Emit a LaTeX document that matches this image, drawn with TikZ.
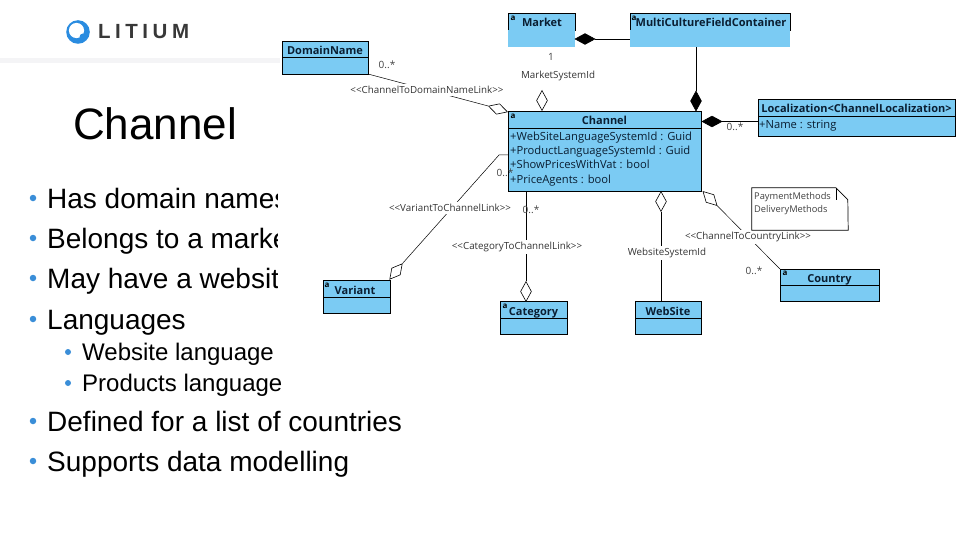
\documentclass[tikz,border=0pt]{standalone}
\usepackage{fontspec}
\setmainfont{Liberation Sans}
\newfontfamily\umlfont{Open Sans}
\newfontfamily\logofont[LetterSpace=22]{Liberation Sans}
\usetikzlibrary{shapes.geometric}
\definecolor{umlblue}{HTML}{7BCBF3}
\definecolor{litiumblue}{HTML}{2A8CE0}
\definecolor{bulletblue}{HTML}{3A8ED8}
\definecolor{rulegray}{HTML}{F4F4F6}
\definecolor{umlink}{HTML}{0A1E32}
\tikzset{
  headbox/.style={rectangle, draw=black, fill=umlblue, line width=0.9pt, inner sep=0pt, text height=11pt, text depth=0pt, font=\umlfont\bfseries\fontsize{11}{12}\selectfont, text=umlink},
  bodybox/.style={rectangle, draw=black, fill=umlblue, line width=0.9pt, inner sep=0pt},
  bodyfill/.style={rectangle, fill=umlblue, inner sep=0pt},
  attrtext/.style={anchor=base west, inner sep=0pt, font=\umlfont\fontsize{11.2}{12}\selectfont, text=umlink},
  linktext/.style={fill=white, inner xsep=1pt, inner ysep=2pt, font=\umlfont\fontsize{9.8}{10}\selectfont, text=black!80},
  multtext/.style={inner sep=0pt, font=\umlfont\fontsize{10}{10}\selectfont, text=black!75},
  abstext/.style={inner sep=0pt, font=\umlfont\bfseries\fontsize{8}{8}\selectfont},
  opendiamond/.style={diamond, draw=black, fill=white, line width=0.6pt, minimum width=20pt, minimum height=11pt, inner sep=0pt},
  fulldiamond/.style={diamond, draw=black, fill=black, line width=0.6pt, minimum width=20pt, minimum height=11pt, inner sep=0pt},
  slidetext/.style={anchor=base west, inner sep=0pt, font=\fontsize{28}{30}\selectfont},
  subtext/.style={anchor=base west, inner sep=0pt, font=\fontsize{24}{26}\selectfont},
  bulletdot/.style={circle, fill=bulletblue, inner sep=0pt, minimum size=6.5pt},
  subdot/.style={circle, fill=bulletblue, inner sep=0pt, minimum size=6pt},
  umlline/.style={line width=0.8pt},
  thinline/.style={line width=0.5pt}
}
\begin{document}
\begin{tikzpicture}[x=1pt,y=-1pt]
\useasboundingbox (0,0) rectangle (960,540);
\fill[rulegray] (0,58.5) rectangle (280,63.5);
\fill[litiumblue] (78,32) circle (11.8);
\fill[white] (76.5,30.5) circle (7.6);
\node[fill=litiumblue, circle, inner sep=0pt, minimum size=7pt] (logodot) at (83,37){};
\node[anchor=west, inner sep=0pt, text=black!78, font=\logofont\bfseries\fontsize{20.5}{22}\selectfont] (logotext) at (98,31.5){LITIUM};
\node[anchor=base west, inner sep=0pt, font=\fontsize{44}{48}\selectfont] (title) at (73,139.5){Channel};

\node[bulletdot] (dot1) at (33,198){};
\node[slidetext] (item1) at (47,208){Has domain names};
\node[bulletdot] (dot2) at (33,238){};
\node[slidetext] (item2) at (47,248){Belongs to a market};
\node[bulletdot] (dot3) at (33,278){};
\node[slidetext] (item3) at (47,288){May have a website};
\node[bulletdot] (dot4) at (33,319){};
\node[slidetext] (item4) at (47,329){Languages};
\node[subdot] (dot5) at (68,352){};
\node[subtext] (item5) at (82,360){Website language};
\node[subdot] (dot6) at (68,383){};
\node[subtext] (item6) at (82,391){Products language};
\node[bulletdot] (dot7) at (33,421){};
\node[slidetext] (item7) at (47,431){Defined for a list of countries};
\node[bulletdot] (dot8) at (33,461){};
\node[slidetext] (item8) at (47,471){Supports data modelling};
\fill[white] (278,180) rectangle (400,300);

\node[headbox, minimum width=86pt, minimum height=16pt] (domainhead) at (325,49){DomainName};
\node[bodybox, minimum width=86pt, minimum height=17pt] (domainbody) at (325,65.5){};
\node[headbox, minimum width=67pt, minimum height=17pt] (markethead) at (541.5,21.5){\hspace{1pt}Market};
\node[bodyfill, minimum width=67pt, minimum height=17pt] (marketbody) at (541.5,38.5){};
\node[headbox, minimum width=160pt, minimum height=17pt] (multihead) at (710,21.5){\hspace{2pt}MultiCultureFieldContainer};
\node[bodyfill, minimum width=160pt, minimum height=17pt] (multibody) at (710,38.5){};
\node[headbox, minimum width=193pt, minimum height=17pt] (channelhead) at (604.5,119.5){Channel};
\node[bodybox, minimum width=193pt, minimum height=63pt] (channelbody) at (604.5,159.5){};
\node[attrtext] (attr1) at (510,141){+WebSiteLanguageSystemId : Guid};
\node[attrtext] (attr2) at (510,155){+ProductLanguageSystemId : Guid};
\node[attrtext] (attr3) at (510,169){+ShowPricesWithVat : bool};
\node[attrtext] (attr4) at (510,183){+PriceAgents : bool};
\node[headbox, minimum width=197pt, minimum height=17pt] (localhead) at (856.5,107.5){Localization<ChannelLocalization>};
\node[bodybox, minimum width=197pt, minimum height=20pt] (localbody) at (856.5,126){};
\node[attrtext] (attr5) at (759,129){+Name : string};
\node[headbox, minimum width=67pt, minimum height=17pt] (varianthead) at (356.5,288.5){\hspace{-3pt}Variant};
\node[bodybox, minimum width=67pt, minimum height=16pt] (variantbody) at (356.5,305){};
\node[headbox, minimum width=67pt, minimum height=17pt] (categoryhead) at (533.5,309.5){Category};
\node[bodybox, minimum width=67pt, minimum height=16pt] (categorybody) at (533.5,326){};
\node[headbox, minimum width=66pt, minimum height=17pt] (websitehead) at (668,309.5){WebSite};
\node[bodybox, minimum width=66pt, minimum height=16pt] (websitebody) at (668,326){};
\node[headbox, minimum width=99pt, minimum height=16pt] (countryhead) at (829.5,277){Country};
\node[bodybox, minimum width=99pt, minimum height=16pt] (countrybody) at (829.5,293){};

\node[abstext] (absmarket) at (513,18){a};
\node[abstext] (absmulti) at (634,18){a};
\node[abstext] (abschannel) at (513,116){a};
\node[abstext] (absvariant) at (327,285){a};
\node[abstext] (abscategory) at (505,306){a};
\node[abstext] (abscountry) at (785,273){a};

\node[fulldiamond] (dmarket) at (585,39){};
\node[fulldiamond, rotate=90] (dmulti) at (696,101){};
\node[fulldiamond] (dlocal) at (712,121.5){};
\node[opendiamond, rotate=90] (dsystem) at (542,100.5){};
\node[opendiamond, rotate=-17] (ddomain) at (498,109){};
\node[opendiamond, rotate=51] (dvariant) at (396,271.5){};
\node[opendiamond, rotate=90] (dcategory) at (526,291.5){};
\node[opendiamond, rotate=90] (dwebsite) at (661,201.5){};
\node[opendiamond, rotate=-45] (dcountry) at (710,198.5){};
\coordinate (bendvariant) at (499,155);
\coordinate (channelvariant) at (508,155);
\coordinate (channelcategory) at (526,191);
\coordinate (domaincorner) at (368,74);
\coordinate (countrycorner) at (780,269);

\draw[umlline] (dmarket) -- (multibody.west |- dmarket);
\draw[umlline] (multibody.south -| dmulti) -- (dmulti);
\draw[umlline] (dlocal) -- (localbody.west |- dlocal);
\draw[thinline] (domaincorner) -- (ddomain.west);
\draw[thinline] (channelvariant) -- (bendvariant) -- (dvariant.east);
\draw[umlline] (channelcategory) -- (dcategory);
\draw[umlline] (dwebsite) -- (websitehead.north -| dwebsite);
\draw[thinline] (dcountry) -- (countrycorner);

\node[linktext] (linkdomain) at (427,90){<{}<ChannelToDomainNameLink>{}>};
\node[linktext] (linkvariant) at (450,208){<{}<VariantToChannelLink>{}>};
\node[linktext] (linkcategory) at (517,247){<{}<CategoryToChannelLink>{}>};
\node[linktext] (linkcountry) at (748,237){<{}<ChannelToCountryLink>{}>};
\node[linktext] (linksystem) at (558,76){MarketSystemId};
\node[linktext] (linkwebsite) at (667,253){WebsiteSystemId};

\node[multtext] (multdomain) at (387,65){0..*};
\node[multtext] (multmarket) at (551,57){1};
\node[multtext] (multvariant) at (505,173){0..*};
\node[multtext] (multlocal) at (735,126.5){0..*};
\node[multtext] (multcategory) at (531,210){0..*};
\node[multtext] (multcountry) at (754,271){0..*};

\node[fill=white, minimum width=96pt, minimum height=42pt, inner sep=0pt] (noteshape) at (800,209){};
\draw[line width=0.7pt] (noteshape.south west) -- (noteshape.north west) -- ++(84,0) -- ++(12,12) -- (noteshape.south east) -- cycle;
\draw[line width=0.5pt] (noteshape.north west) ++(84,0) -- ++(0,12);
\node[anchor=west, inner sep=0pt, align=left, text=black!75, font=\umlfont\fontsize{9.3}{13.3}\selectfont] (notetext) at (754,203.5){PaymentMethods\\DeliveryMethods};
\end{tikzpicture}
\end{document}
